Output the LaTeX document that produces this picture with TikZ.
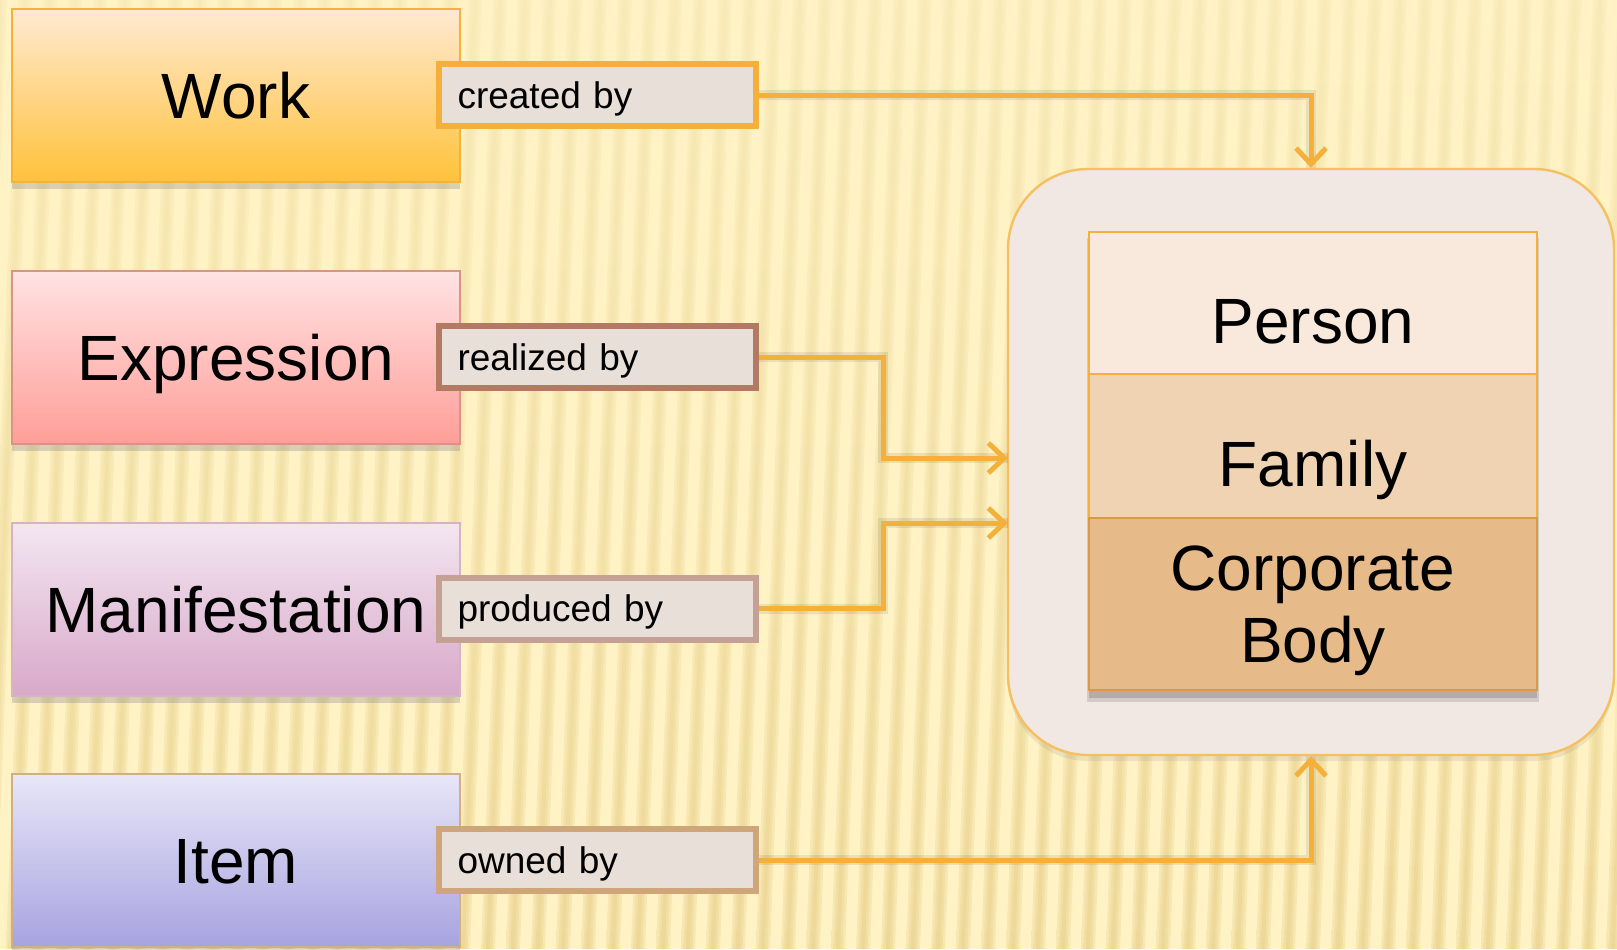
\documentclass[tikz,border=0pt]{standalone}
\usepackage{fontspec}
\setmainfont{Liberation Sans}
\usetikzlibrary{arrows.meta,shadows,calc}
\definecolor{bgc}{HTML}{FFF3C6}
\definecolor{stripeTop}{HTML}{F6E8B2}
\definecolor{stripeBot}{HTML}{E6CC82}
\definecolor{arrowc}{HTML}{F5B03A}
\definecolor{labfill}{HTML}{E8DFD9}
\begin{document}
\begin{tikzpicture}[x=0.5pt,y=-0.5pt,
  bigbox/.style={rectangle, minimum width=224pt, minimum height=86.5pt, inner sep=0pt,
    line width=1pt, font=\fontsize{32pt}{36pt}\selectfont, text height=23pt, text depth=0pt,
    drop shadow={shadow xshift=0pt, shadow yshift=-3.5pt, opacity=0.3}},
  relbox/.style={rectangle, fill=labfill, line width=3pt, minimum height=31pt,
    text width=140pt, inner xsep=9.25pt, inner ysep=0pt, align=left,
    font=\fontsize{18.5pt}{22pt}\selectfont, text height=13.2pt, text depth=0pt},
  agent/.style={rectangle, minimum width=224pt, inner sep=0pt, line width=1pt,
    font=\fontsize{32pt}{36pt}\selectfont, align=center},
  conn/.style={draw=arrowc, line width=2.5pt, -{Straight Barb[length=8pt,width=15pt,line width=2.5pt]}},
  connshadow/.style={draw=black, opacity=0.08, line width=5pt, yshift=-4pt}
]
\useasboundingbox (0,0) rectangle (1617,949);
% background
\fill[bgc] (0,0) rectangle (1617,949);
\foreach \i in {-1,...,68} {
  \pgfmathsetmacro{\xa}{\i*25}
  \foreach \w in {7,4.5,2} {
    \shade[top color=stripeTop, bottom color=stripeBot, opacity=0.3]
      ({\xa-\w},0) -- ({\xa+\w},0) -- ({\xa+\w-37},949) -- ({\xa-\w-37},949) -- cycle;
  }
}

% left entity boxes
\node[bigbox, top color={rgb,255:red,255;green,233;blue,210}, bottom color={rgb,255:red,255;green,194;blue,58}, draw={rgb,255:red,244;green,177;blue,60}] (work) at (236,95.5) {Work};
\node[bigbox, top color={rgb,255:red,255;green,227;blue,227}, bottom color={rgb,255:red,255;green,158;blue,152}, draw={rgb,255:red,216;green,148;blue,140}] (expr) at (236,357) {Expression};
\node[bigbox, top color={rgb,255:red,243;green,230;blue,241}, bottom color={rgb,255:red,216;green,169;blue,201}, draw={rgb,255:red,214;green,178;blue,196}] (manif) at (236,609) {Manifestation};
\node[bigbox, top color={rgb,255:red,232;green,230;blue,247}, bottom color={rgb,255:red,167;green,163;blue,224}, draw={rgb,255:red,208;green,174;blue,136}] (item) at (236,860.5) {Item};

% relationship labels
\node[relbox, draw={rgb,255:red,244;green,176;blue,58}] (created) at (597.5,95) {created by};
\node[relbox, draw={rgb,255:red,178;green,122;blue,98}] (realized) at (597.5,357) {realized by};
\node[relbox, draw={rgb,255:red,196;green,160;blue,149}] (produced) at (597.5,608.5) {produced by};
\node[relbox, draw={rgb,255:red,207;green,166;blue,122}] (owned) at (597.5,860) {owned by};

% container
\node[rectangle, rounded corners=40pt, minimum width=303pt, minimum height=293pt,
  fill={rgb,255:red,241;green,232;blue,228}, draw={rgb,255:red,244;green,192;blue,96}, line width=1.2pt,
  drop shadow={shadow xshift=0pt, shadow yshift=-3pt, opacity=0.15}] (cont) at (1311,462) {};

% agent stack shadow
\fill[black, opacity=0.12] (1087,238) rectangle (1539,702);
\fill[black, opacity=0.15] (1089,240) rectangle (1537,698);
\node[agent, minimum height=71pt, fill={rgb,255:red,248;green,233;blue,220}, draw={rgb,255:red,244;green,176;blue,58}, text height=40pt, text depth=0pt] (person) at (1313,303) {Person};
\node[agent, minimum height=72pt, fill={rgb,255:red,240;green,211;blue,179}, draw={rgb,255:red,244;green,176;blue,58}, text height=40pt, text depth=0pt] (family) at (1313,446) {Family};
\node[agent, minimum height=86pt, fill={rgb,255:red,231;green,186;blue,138}, draw={rgb,255:red,217;green,154;blue,69}, text depth=0pt] (corp) at (1313,604) {Corporate\\Body};

% connectors
\coordinate (jx) at (883,0);
\coordinate (inA) at (1008,458);
\coordinate (inB) at (1008,523);
\draw[connshadow] (created.east) -| (cont.north);
\draw[connshadow] (realized.east) -- (realized.east -| jx) |- (inA);
\draw[connshadow] (produced.east) -- (produced.east -| jx) |- (inB);
\draw[connshadow] (owned.east) -| (cont.south);
\draw[conn] (created.east) -| (cont.north);
\draw[conn] (realized.east) -- (realized.east -| jx) |- (inA);
\draw[conn] (produced.east) -- (produced.east -| jx) |- (inB);
\draw[conn] (owned.east) -| (cont.south);
\end{tikzpicture}
\end{document}
